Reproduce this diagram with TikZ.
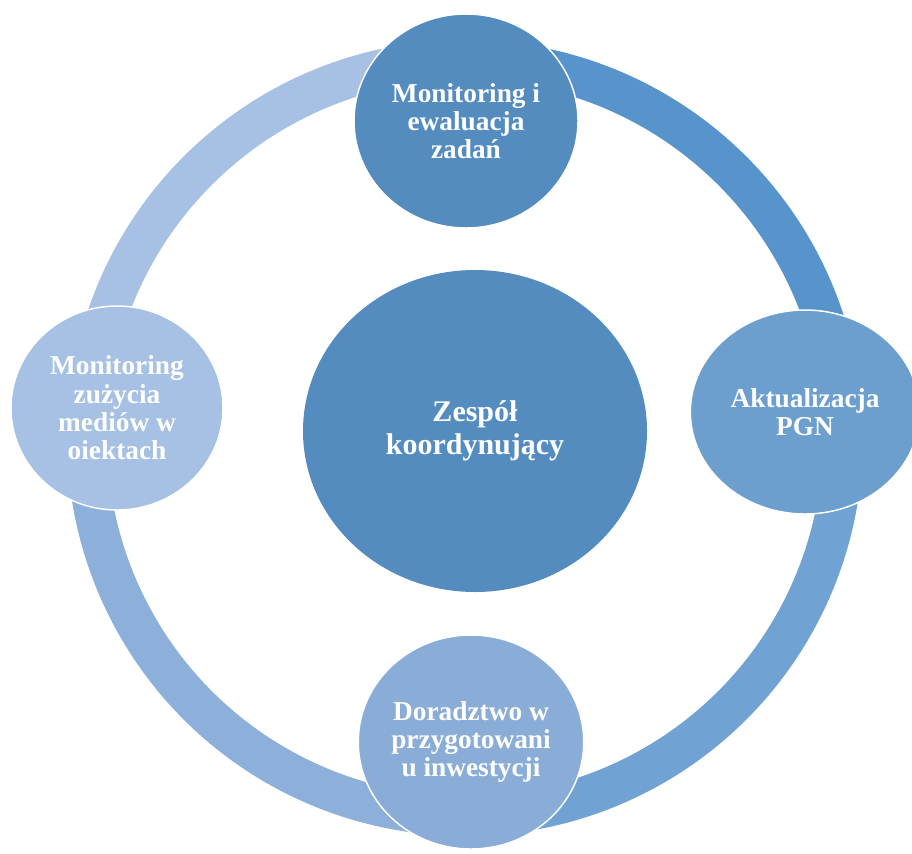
\documentclass[tikz,border=0pt]{standalone}
\usepackage{fontspec}
\setmainfont{Liberation Serif}
\usetikzlibrary{shapes.geometric}
\definecolor{cDark}{RGB}{84,140,192}
\definecolor{cRight}{RGB}{108,158,206}
\definecolor{cLeft}{RGB}{166,193,227}
\definecolor{cBottom}{RGB}{138,173,216}
\definecolor{rTL}{RGB}{166,193,227}
\definecolor{rTR}{RGB}{87,148,203}
\definecolor{rRB}{RGB}{112,163,211}
\definecolor{rBL}{RGB}{140,176,218}
\begin{document}
\begin{tikzpicture}[x=0.75pt,y=-0.75pt,
  bub/.style={ellipse, draw=white, line width=1.1pt, inner sep=0pt, text=white,
    font=\bfseries\fontsize{20.5}{21.2}\selectfont, align=center},
  seg/.style={line width=30pt}]
\useasboundingbox (0,0) rectangle (912,853);
\clip (0,0) rectangle (912,853);
\fill[white] (0,0) rectangle (912,853);
\coordinate (rc) at (465,438);
% ring segments
\draw[seg, draw=rTL] (rc) ++(-90:378) arc[start angle=-90, end angle=-176, radius=378];
\draw[seg, draw=rTR] (rc) ++(-4:378) arc[start angle=-4, end angle=-91, radius=378];
\draw[seg, draw=rRB] (rc) ++(90:378) arc[start angle=90, end angle=-5, radius=378];
\draw[seg, draw=rBL] (rc) ++(185:378) arc[start angle=185, end angle=89, radius=378];
% satellite circles
\node[bub, fill=cDark, minimum width=168pt, minimum height=160.5pt] (top) at (466,121)
  {Monitoring i\\ewaluacja\\zadań};
\node[bub, fill=cRight, minimum width=172pt, minimum height=153pt] (right) at (805,412)
  {Aktualizacja\\PGN};
\node[bub, fill=cBottom, minimum width=168pt, minimum height=160.5pt] (bottom) at (471,742)
  {Doradztwo w\\przygotowani\\u inwestycji};
\node[bub, fill=cLeft, minimum width=159pt, minimum height=153pt] (left) at (117,408)
  {Monitoring\\zużycia\\mediów w\\oiektach};
% central circle
\node[bub, draw=none, fill=cDark, minimum width=258pt, minimum height=241.5pt,
  font=\bfseries\fontsize{22.5}{24.75}\selectfont] (center) at (475,431)
  {Zespół\\koordynujący};
\end{tikzpicture}
\end{document}
